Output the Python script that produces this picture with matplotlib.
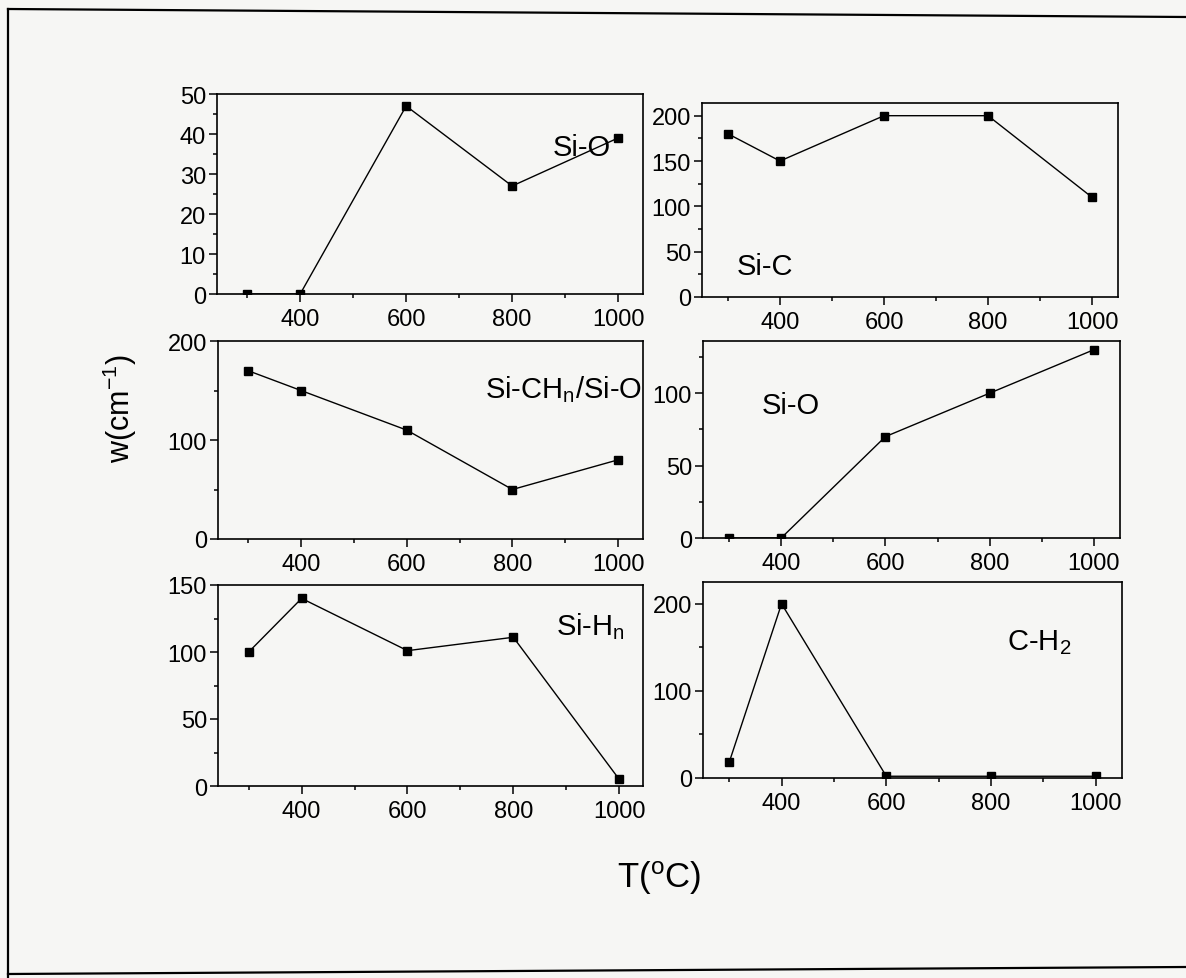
import matplotlib
matplotlib.use('Agg')
import matplotlib.pyplot as plt
from matplotlib.lines import Line2D
from matplotlib.ticker import MultipleLocator

plt.rcParams['font.family'] = ['Liberation Sans', 'DejaVu Sans']
plt.rcParams['mathtext.default'] = 'regular'

# annealing temperature (deg C)
T = [300, 400, 600, 800, 1000]

# peak widths w (cm^-1)
si_o_top = [0, 0, 47, 27, 39]
si_c = [180, 150, 200, 200, 110]
si_chn_si_o = [170, 150, 110, 50, 80]
si_o_mid = [0, 0, 70, 100, 130]
si_hn = [100, 140, 101, 111, 5]
c_h2 = [18, 200, 2, 2, 2]

labels = ['Si-O', 'Si-C', 'Si-CH$_n$/Si-O', 'Si-O', 'Si-H$_n$', 'C-H$_2$']
series = [si_o_top, si_c, si_chn_si_o, si_o_mid, si_hn, c_h2]
ylims = [(0, 50), (0, 214), (0, 200), (0, 136), (0, 150), (0, 225)]
ymajor = [10, 50, 100, 50, 50, 100]
yminor = [5, 25, 50, 25, 25, 50]

W, H = 1186, 979
fig = plt.figure(figsize=(W / 100, H / 100), dpi=100, facecolor='#f6f6f4')

# pixel boxes: left, right, top, bottom
boxes = [(217, 643, 95, 295), (702, 1118, 104, 298),
         (218, 643, 342, 540), (703, 1120, 342, 539),
         (218, 643, 586, 787), (703, 1122, 583, 779)]
xlims = [(243, 1047), (250, 1050), (243, 1047), (250, 1050), (242, 1045), (250, 1050)]
# label position (axes fraction), alignment
label_pos = [(0.789, 0.695, 'left'), (0.084, 0.119, 'left'),
             (0.998, 0.717, 'right'), (0.141, 0.635, 'left'),
             (0.795, 0.756, 'left'), (0.726, 0.658, 'left')]

for i in range(6):
    l, r, t, b = boxes[i]
    ax = fig.add_axes([l / W, 1 - b / H, (r - l) / W, (b - t) / H])
    ax.set_facecolor('none')
    ax.plot(T, series[i], color='black', lw=1, marker='s', ms=6,
            markerfacecolor='black', markeredgecolor='black')
    ax.set_xlim(xlims[i])
    ax.set_ylim(ylims[i])
    ax.set_xticks([400, 600, 800, 1000])
    ax.xaxis.set_minor_locator(MultipleLocator(100))
    ax.yaxis.set_major_locator(MultipleLocator(ymajor[i]))
    ax.yaxis.set_minor_locator(MultipleLocator(yminor[i]))
    ax.tick_params(which='both', direction='out', labelsize=17, width=1.1)
    ax.tick_params(which='major', length=6, pad=2)
    ax.tick_params(which='minor', length=3)
    ax.tick_params(axis='x', which='major', pad=4)
    for s in ax.spines.values():
        s.set_linewidth(1.2)
    x, y, ha = label_pos[i]
    ax.text(x, y, labels[i], transform=ax.transAxes, ha=ha, va='baseline',
            fontsize=21)

fig.text(0.101, 0.583, 'w(cm$^{-1}$)', rotation=90, ha='center', va='center',
         fontsize=22)
fig.text(0.556, 0.103, 'T($^o$C)', ha='center', va='center', fontsize=25)

# scanned page frame
frame = dict(color='black', lw=1.6, transform=fig.transFigure)
fig.add_artist(Line2D([8 / W, 8 / W], [1 - 10 / H, 0], **frame))
fig.add_artist(Line2D([8 / W, 1], [1 - 10 / H, 1 - 18 / H], **frame))
fig.add_artist(Line2D([8 / W, 1], [1 - 975 / H, 1 - 968 / H], **frame))

fig.savefig('out.png', dpi=100, facecolor=fig.get_facecolor())
